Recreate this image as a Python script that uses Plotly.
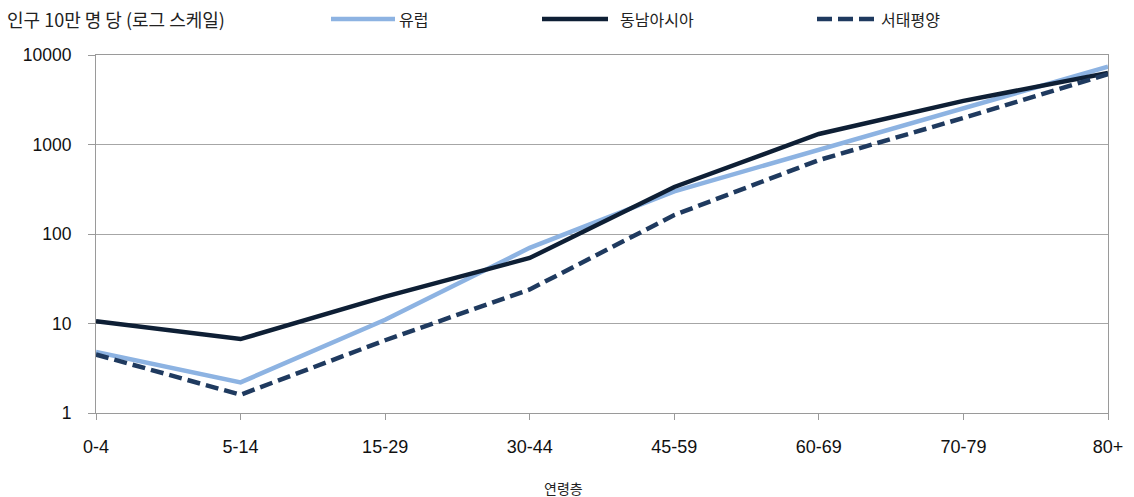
import plotly.graph_objects as go

# Age groups and rates per 100,000 population (log scale)
age_groups = ["0-4", "5-14", "15-29", "30-44", "45-59", "60-69", "70-79", "80+"]
europe = [4.8, 2.2, 11, 70, 300, 870, 2600, 7400]
se_asia = [10.6, 6.7, 20, 54, 335, 1310, 3070, 6300]
w_pacific = [4.5, 1.6, 6.5, 24, 163, 670, 1980, 6100]

series_names = ["유럽", "동남아시아", "서태평양"]
series_values = [europe, se_asia, w_pacific]

FONT = "Liberation Sans, Arial, sans-serif"
KFONT = "Noto Sans CJK KR, sans-serif"

W, H = 1134, 497
ML, MR, MT, MB = 96, 26, 55, 84
PW, PH = W - ML - MR, H - MT - MB

styles = [
    dict(color="#8DB3E2", width=4.5, dash="solid"),
    dict(color="#0E1F35", width=4.5, dash="solid"),
    dict(color="#1F3A5F", width=4.5, dash="13px,6px"),
]


def px_x(p):
    return (p - ML) / PW


def px_y(p):
    return (H - MB - p) / PH


fig = go.Figure()
for name, vals, st in zip(series_names, series_values, styles):
    fig.add_trace(go.Scatter(x=age_groups, y=vals, name=name, mode="lines",
                             line=st, showlegend=False))

# Legend row drawn along the top edge: sample line + label
legend_pos = [(331, 395, 397), (542, 608, 618), (817, 877, 879)]
legend_y = 19
shapes = []
annotations = []
for name, st, (x0, x1, xt) in zip(series_names, styles, legend_pos):
    shapes.append(dict(type="line", xref="paper", yref="paper",
                       x0=px_x(x0), x1=px_x(x1), y0=px_y(legend_y), y1=px_y(legend_y),
                       line=dict(color=st["color"], width=st["width"],
                                 dash="15px,6px" if st["dash"] != "solid" else "solid")))
    annotations.append(dict(text=name, xref="paper", yref="paper",
                            x=px_x(xt), y=px_y(legend_y), xanchor="left", yanchor="middle",
                            showarrow=False, font=dict(family=KFONT, size=16, color="#222")))

annotations.append(dict(
    text="인구 10만 명 당 (로그 스케일)", xref="paper", yref="paper",
    x=px_x(5), y=px_y(legend_y), xanchor="left", yanchor="middle", showarrow=False,
    font=dict(family=KFONT, size=18, color="#222")))
annotations.append(dict(
    text="연령층", xref="paper", yref="paper",
    x=px_x(563), y=px_y(488), xanchor="center", yanchor="middle", showarrow=False,
    font=dict(family=KFONT, size=14, color="#222")))

fig.update_layout(
    width=W, height=H,
    margin=dict(l=ML, r=MR, t=MT, b=MB, autoexpand=False),
    paper_bgcolor="white", plot_bgcolor="white",
    showlegend=False,
    xaxis=dict(
        type="category", range=[0, 7], automargin=False,
        showgrid=False, showline=True, linecolor="#9A9A9A", linewidth=1,
        mirror=True,
        ticks="outside", ticklen=6, tickcolor="#9A9A9A", ticklabelstandoff=11,
        tickfont=dict(family=FONT, size=18, color="#111"),
    ),
    yaxis=dict(
        type="log", range=[0, 4], automargin=False,
        tickvals=[1, 10, 100, 1000, 10000],
        ticktext=["1", "10", "100", "1000", "10000"],
        showgrid=True, gridcolor="#A6A6A6", gridwidth=1,
        showline=True, linecolor="#9A9A9A", linewidth=1, mirror=True,
        ticks="outside", ticklen=7, tickcolor="#9A9A9A", ticklabelstandoff=13,
        tickfont=dict(family=FONT, size=17.5, color="#111"),
        zeroline=False,
    ),
    shapes=shapes,
    annotations=annotations,
)

fig.write_html("out.html")
